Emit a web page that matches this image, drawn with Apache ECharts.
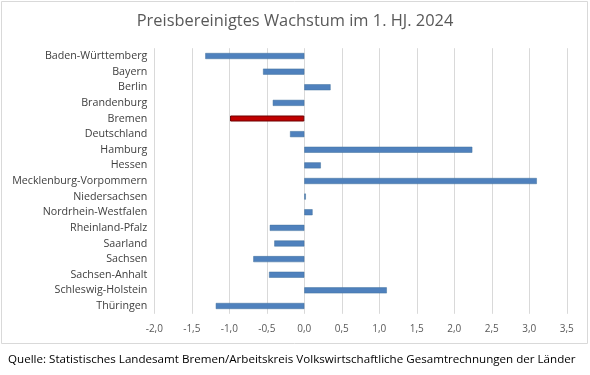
<!DOCTYPE html>
<html>
<head>
<meta charset="utf-8">
<script src="https://cdn.jsdelivr.net/npm/echarts@6/dist/echarts.min.js"></script>
<style>
html,body{margin:0;padding:0;background:#fff;}
#c{width:590px;height:375px;}
</style>
</head>
<body>
<div id="c"></div>
<script>
const categories = ["Baden-Württemberg","Bayern","Berlin","Brandenburg","Bremen","Deutschland","Hamburg","Hessen","Mecklenburg-Vorpommern","Niedersachsen","Nordrhein-Westfalen","Rheinland-Pfalz","Saarland","Sachsen","Sachsen-Anhalt","Schleswig-Holstein","Thüringen"];
const values = [-1.32,-0.55,0.35,-0.42,-0.99,-0.19,2.24,0.22,3.10,0.02,0.11,-0.46,-0.40,-0.68,-0.47,1.10,-1.18];
const highlight = "Bremen";
const xTicks = [-2.0,-1.5,-1.0,-0.5,0.0,0.5,1.0,1.5,2.0,2.5,3.0,3.5];
const titleText = "Preisbereinigtes Wachstum im 1. HJ. 2024";
const sourceText = "Quelle: Statistisches Landesamt Bremen/Arbeitskreis Volkswirtschaftliche Gesamtrechnungen der Länder";

const FONT = "Open Sans";
const chart = echarts.init(document.getElementById('c'), null, {renderer:'canvas'});
const data = values.map((v,i)=>({
  value: v,
  itemStyle: categories[i]===highlight
    ? {color:'#c00000', borderColor:'#6e0000', borderWidth:1}
    : {color:'#4f81bd', borderColor:'#41719c', borderWidth:0.5}
}));
chart.setOption({
  animation:false,
  backgroundColor:'#fff',
  title:{
    text:titleText, left:'center', top:8,
    textStyle:{fontFamily:FONT, fontSize:16.4, fontWeight:'normal', color:'#595959'}
  },
  graphic:[
    {type:'rect', shape:{x:1.5,y:1.5,width:586,height:342}, style:{fill:'none', stroke:'#d9d9d9', lineWidth:1}, silent:true},
    {type:'text', left:8, top:354, style:{text:sourceText, fontFamily:FONT, fontSize:11.6, fill:'#000'}}
  ],
  grid:{left:154.3, right:23.2, top:48.2, bottom:61.2, containLabel:false},
  xAxis:{
    type:'value', min:xTicks[0], max:xTicks[xTicks.length-1], interval:0.5,
    axisLine:{show:false}, axisTick:{show:false},
    splitLine:{show:true, lineStyle:{color:'#d9d9d9', width:1}},
    axisLabel:{fontFamily:FONT, fontSize:10, color:'#595959', margin:10,
      formatter:v=>v.toFixed(1).replace('.',',')}
  },
  yAxis:{
    type:'category', data:categories, inverse:true,
    axisLine:{show:false}, axisTick:{show:false},
    axisLabel:{fontFamily:FONT, fontSize:10.7, color:'#404040', margin:7, interval:0}
  },
  series:[{
    type:'bar', data:data, barWidth:6
  }]
});
</script>
</body>
</html>
